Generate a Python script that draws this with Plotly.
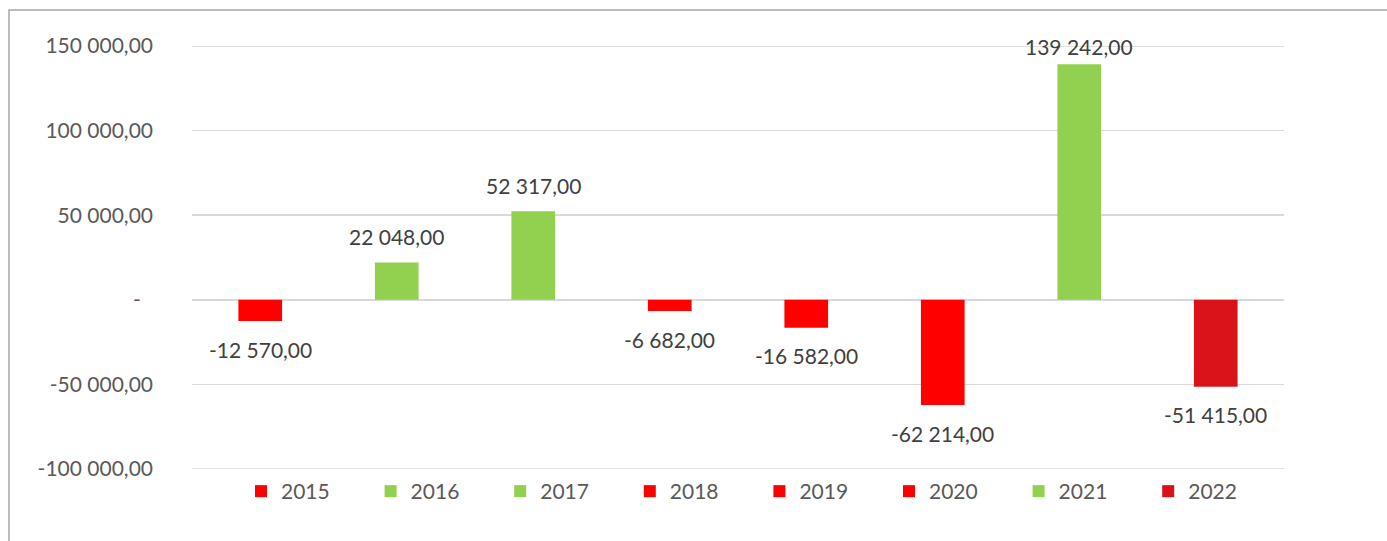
import plotly.graph_objects as go

years = ["2015", "2016", "2017", "2018", "2019", "2020", "2021", "2022"]
values = [-12570, 22048, 52317, -6682, -16582, -62214, 139242, -51415]
colors = ["#FF0000", "#92D050", "#92D050", "#FF0000", "#FF0000", "#FF0000", "#92D050", "#DA121A"]
tick_vals = [-100000, -50000, 0, 50000, 100000, 150000]
tick_text = ["-100 000,00", "-50 000,00", "-\u2007", "50 000,00", "100 000,00", "150 000,00"]
y_min, y_max = -100000, 150000


def fmt(v):
    s = f"{abs(v):,.2f}".replace(",", " ").replace(".", ",")
    return ("-" if v < 0 else "") + s


W, H = 1387, 541
ML, MR, MT, MB = 192, 103, 46, 72
plot_h = H - MT - MB
plot_w = W - ML - MR
units_per_px = (y_max - y_min) / plot_h

FONT = "Lato, 'Open Sans', sans-serif"
GRID = "#D9D9D9"

fig = go.Figure()
for yr, v, c in zip(years, values, colors):
    fig.add_trace(go.Bar(x=[yr], y=[v], name=yr, marker=dict(color=c, line=dict(width=0)),
                         width=0.32, hoverinfo="skip"))

annotations = []
for i, (yr, v) in enumerate(zip(years, values)):
    if v >= 0:
        ly = min(v + 26 * units_per_px, y_max)
    else:
        ly = max(v - 28 * units_per_px, y_min)
    annotations.append(dict(x=i, y=ly, xref="x", yref="y", text=fmt(v), showarrow=False,
                            font=dict(family=FONT, size=21, color="#404040"),
                            xanchor="center", yanchor="middle"))

px2x = lambda p: (p - ML) / plot_w
px2y = lambda p: (H - MB - p) / plot_h

shapes = [dict(type="rect", xref="paper", yref="paper",
               x0=px2x(9), x1=px2x(W + 20), y0=px2y(H + 20), y1=px2y(10),
               line=dict(color="#A6A6A6", width=1.5), fillcolor="rgba(0,0,0,0)", layer="below")]
# gridlines at the ends of the value range (plotly omits them at the plot edge)
for tv in (y_min, y_max):
    shapes.append(dict(type="line", xref="paper", yref="y", x0=0, x1=1, y0=tv, y1=tv,
                       line=dict(color=GRID, width=1.5), layer="below"))

fig.update_layout(
    width=W, height=H,
    margin=dict(l=ML, r=MR, t=MT, b=MB, pad=0, autoexpand=False),
    paper_bgcolor="white", plot_bgcolor="white",
    barmode="overlay",
    showlegend=True,
    legend=dict(orientation="h", x=px2x(241), xanchor="left", y=px2y(471), yanchor="top",
                entrywidth=84.6, entrywidthmode="pixels", itemwidth=30,
                font=dict(family=FONT, size=21, color="#595959"), traceorder="normal",
                bgcolor="rgba(0,0,0,0)"),
    xaxis=dict(type="category", categoryorder="array", categoryarray=years,
               showticklabels=False, showgrid=False, zeroline=False, showline=False,
               range=[-0.5, len(years) - 0.5]),
    yaxis=dict(range=[y_min, y_max], tickvals=tick_vals, ticktext=tick_text,
               showgrid=True, gridcolor=GRID, gridwidth=1.5,
               zeroline=True, zerolinecolor=GRID, zerolinewidth=1.5,
               showline=False, ticks="", ticklabelstandoff=38,
               tickfont=dict(family=FONT, size=21, color="#595959")),
    annotations=annotations,
    shapes=shapes,
)

fig.write_html("out.html", config={"displayModeBar": False, "staticPlot": True})

# remove the default page margin so the figure sits at the window origin
with open("out.html", "r", encoding="utf-8") as f:
    html = f.read()
html = html.replace("<body>", '<body style="margin:0;padding:0;overflow:hidden">', 1)
with open("out.html", "w", encoding="utf-8") as f:
    f.write(html)
